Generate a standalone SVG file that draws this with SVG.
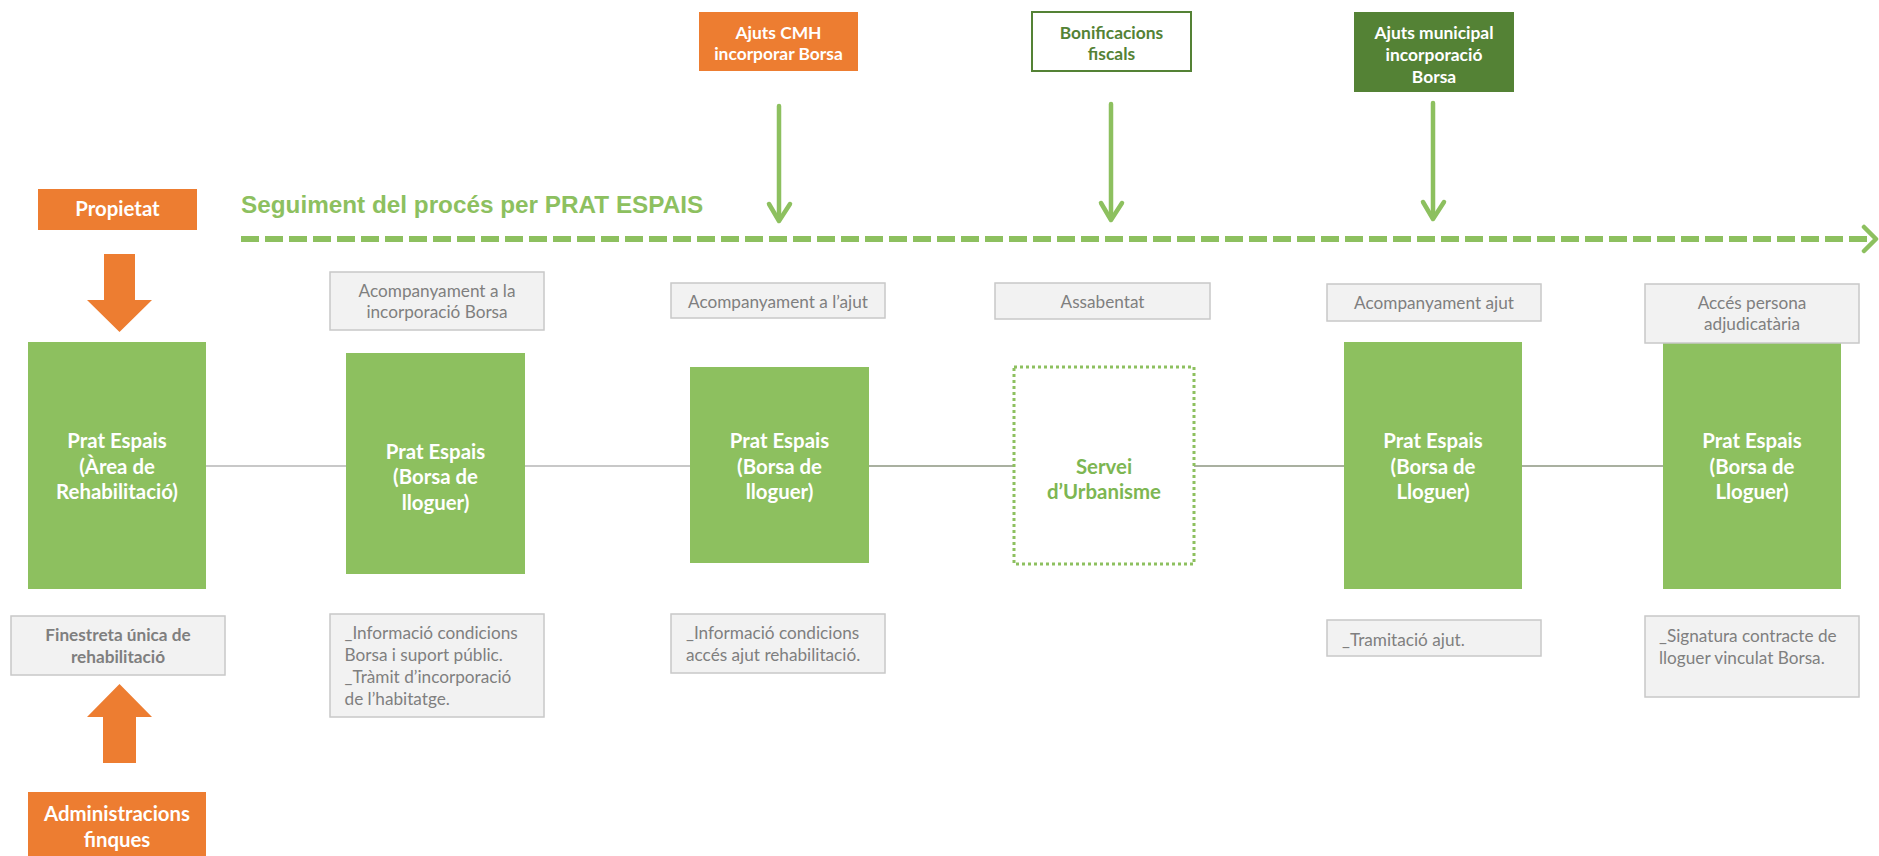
<svg xmlns="http://www.w3.org/2000/svg" width="1879" height="856" viewBox="0 0 1879 856">
<style>
.orange{fill:#ED7D31}
.dkgreen{fill:#548235}
.green{fill:#8DC05F}
.lbl{fill:#F2F2F2;stroke:#C8C8C8;stroke-width:1.5}
.wb{font-family:Lato,"Open Sans",sans-serif;font-weight:bold;fill:#FFFFFF;text-anchor:middle}
.big{font-size:20.4px}
.sm{font-size:17.4px}
.gt{font-family:Lato,"Open Sans",sans-serif;font-size:17.2px;fill:#7F7F7F}
.c{text-anchor:middle}
.garrow{stroke:#8DC05F;stroke-width:4.5;fill:none;stroke-linecap:round;stroke-linejoin:round}
.conn1{stroke:#C8C8C8;stroke-width:2}
.conn2{stroke:#A9B0A0;stroke-width:2}
</style>
<rect width="1879" height="856" fill="#FFFFFF"/>

<g id="connectors">
  <line class="conn1" x1="206" y1="466" x2="346" y2="466"/>
  <line class="conn1" x1="525" y1="466" x2="690" y2="466"/>
  <line class="conn2" x1="869" y1="466" x2="1014" y2="466"/>
  <line class="conn2" x1="1194" y1="466" x2="1344" y2="466"/>
  <line class="conn2" x1="1522" y1="466" x2="1663" y2="466"/>
  <!-- dashed timeline -->
  <line x1="241" y1="239" x2="1872" y2="239" stroke="#8DC05F" stroke-width="6" stroke-dasharray="18 6"/>
  <polyline class="garrow" points="1864,227 1876,239 1864,251"/>
  <!-- vertical arrows -->
  <line class="garrow" x1="779" y1="106" x2="779" y2="220"/>
  <polyline class="garrow" points="769,204 779,221 790,204"/>
  <line class="garrow" x1="1111" y1="104" x2="1111" y2="219"/>
  <polyline class="garrow" points="1101,203 1111,220 1122,203"/>
  <line class="garrow" x1="1433" y1="103" x2="1433" y2="218"/>
  <polyline class="garrow" points="1423,202 1433,219 1444,202"/>
  <!-- orange block arrows -->
  <polygon class="orange" points="104,254 135,254 135,300 152,300 119.5,332 87,300 104,300"/>
  <polygon class="orange" points="119.5,684 152,717 136,717 136,763 103,763 103,717 87,717"/>
</g>

<g id="title">
  <text x="241" y="213" font-family="'Liberation Sans',Arial,sans-serif" font-weight="bold" font-size="24.3" fill="#8DC05F">Seguiment del procés per PRAT ESPAIS</text>
</g>

<g id="propietat">
  <rect class="orange" x="38" y="189" width="159" height="41"/>
  <text class="wb big" x="117.5" y="216">Propietat</text>
</g>

<g id="ajuts-cmh">
  <rect class="orange" x="699" y="12" width="159" height="59"/>
  <text class="wb sm" x="778.5" y="39">Ajuts CMH</text>
  <text class="wb sm" x="778.5" y="59.5">incorporar Borsa</text>
</g>

<g id="bonificacions">
  <rect x="1032" y="12" width="159" height="59" fill="#FFFFFF" stroke="#548235" stroke-width="2"/>
  <text class="wb sm" x="1111.5" y="38.5" style="fill:#548235">Bonificacions</text>
  <text class="wb sm" x="1111.5" y="59.5" style="fill:#548235">fiscals</text>
</g>

<g id="ajuts-municipal">
  <rect class="dkgreen" x="1354" y="12" width="160" height="80"/>
  <text class="wb sm" x="1434" y="39">Ajuts municipal</text>
  <text class="wb sm" x="1434" y="61">incorporació</text>
  <text class="wb sm" x="1434" y="82.5">Borsa</text>
</g>

<g id="label-acomp-borsa">
  <rect class="lbl" x="330" y="272" width="214" height="58"/>
  <text class="gt c" x="437" y="296.5">Acompanyament a la</text>
  <text class="gt c" x="437" y="318">incorporació Borsa</text>
</g>
<g id="label-acomp-ajut">
  <rect class="lbl" x="671" y="283" width="214" height="35"/>
  <text class="gt c" x="778" y="307.5">Acompanyament a l’ajut</text>
</g>
<g id="label-assabentat">
  <rect class="lbl" x="995" y="283" width="215" height="36"/>
  <text class="gt c" x="1102.5" y="308">Assabentat</text>
</g>
<g id="label-acomp-ajut2">
  <rect class="lbl" x="1327" y="284" width="214" height="37"/>
  <text class="gt c" x="1434" y="309">Acompanyament ajut</text>
</g>

<g id="node-area-rehab">
  <rect class="green" x="28" y="342" width="178" height="247"/>
  <text class="wb big" x="117" y="448">Prat Espais</text>
  <text class="wb big" x="117" y="473.5">(Àrea de</text>
  <text class="wb big" x="117" y="499">Rehabilitació)</text>
</g>
<g id="node-borsa1">
  <rect class="green" x="346" y="353" width="179" height="221"/>
  <text class="wb big" x="435.5" y="458.5">Prat Espais</text>
  <text class="wb big" x="435.5" y="484">(Borsa de</text>
  <text class="wb big" x="435.5" y="509.5">lloguer)</text>
</g>
<g id="node-borsa2">
  <rect class="green" x="690" y="367" width="179" height="196"/>
  <text class="wb big" x="779.5" y="448">Prat Espais</text>
  <text class="wb big" x="779.5" y="473.5">(Borsa de</text>
  <text class="wb big" x="779.5" y="499">lloguer)</text>
</g>
<g id="node-urbanisme">
  <rect x="1014" y="367" width="180" height="197" fill="#FFFFFF" stroke="#8DC05F" stroke-width="3" stroke-dasharray="3 3"/>
  <text class="wb big" x="1104" y="473.5" style="fill:#7DB652">Servei</text>
  <text class="wb big" x="1104" y="499" style="fill:#7DB652">d’Urbanisme</text>
</g>
<g id="node-borsa3">
  <rect class="green" x="1344" y="342" width="178" height="247"/>
  <text class="wb big" x="1433" y="448">Prat Espais</text>
  <text class="wb big" x="1433" y="473.5">(Borsa de</text>
  <text class="wb big" x="1433" y="499">Lloguer)</text>
</g>
<g id="node-borsa4">
  <rect class="green" x="1663" y="342" width="178" height="247"/>
  <text class="wb big" x="1752" y="448">Prat Espais</text>
  <text class="wb big" x="1752" y="473.5">(Borsa de</text>
  <text class="wb big" x="1752" y="499">Lloguer)</text>
</g>
<g id="label-acces">
  <rect class="lbl" x="1645" y="284" width="214" height="59"/>
  <text class="gt c" x="1752" y="309">Accés persona</text>
  <text class="gt c" x="1752" y="330">adjudicatària</text>
</g>

<g id="label-finestreta">
  <rect class="lbl" x="11" y="616" width="214" height="59"/>
  <text class="gt c" x="118" y="641" font-weight="bold">Finestreta única de</text>
  <text class="gt c" x="118" y="662.5" font-weight="bold">rehabilitació</text>
</g>
<g id="label-info-borsa">
  <rect class="lbl" x="330" y="614" width="214" height="103"/>
  <text class="gt" x="344.5" y="639">_Informació condicions</text>
  <text class="gt" x="344.5" y="661">Borsa i suport públic.</text>
  <text class="gt" x="344.5" y="683">_Tràmit d’incorporació</text>
  <text class="gt" x="344.5" y="704.5">de l’habitatge.</text>
</g>
<g id="label-info-ajut">
  <rect class="lbl" x="671" y="614" width="214" height="59"/>
  <text class="gt" x="686" y="639">_Informació condicions</text>
  <text class="gt" x="686" y="661">accés ajut rehabilitació.</text>
</g>
<g id="label-tramitacio">
  <rect class="lbl" x="1327" y="620" width="214" height="36"/>
  <text class="gt" x="1342" y="646">_Tramitació ajut.</text>
</g>
<g id="label-signatura">
  <rect class="lbl" x="1645" y="616" width="214" height="81"/>
  <text class="gt" x="1659" y="642">_Signatura contracte de</text>
  <text class="gt" x="1659" y="663.5">lloguer vinculat Borsa.</text>
</g>

<g id="administracions">
  <rect class="orange" x="28" y="792" width="178" height="70"/>
  <text class="wb big" x="117" y="820.5">Administracions</text>
  <text class="wb big" x="117" y="847">finques</text>
</g>
</svg>
